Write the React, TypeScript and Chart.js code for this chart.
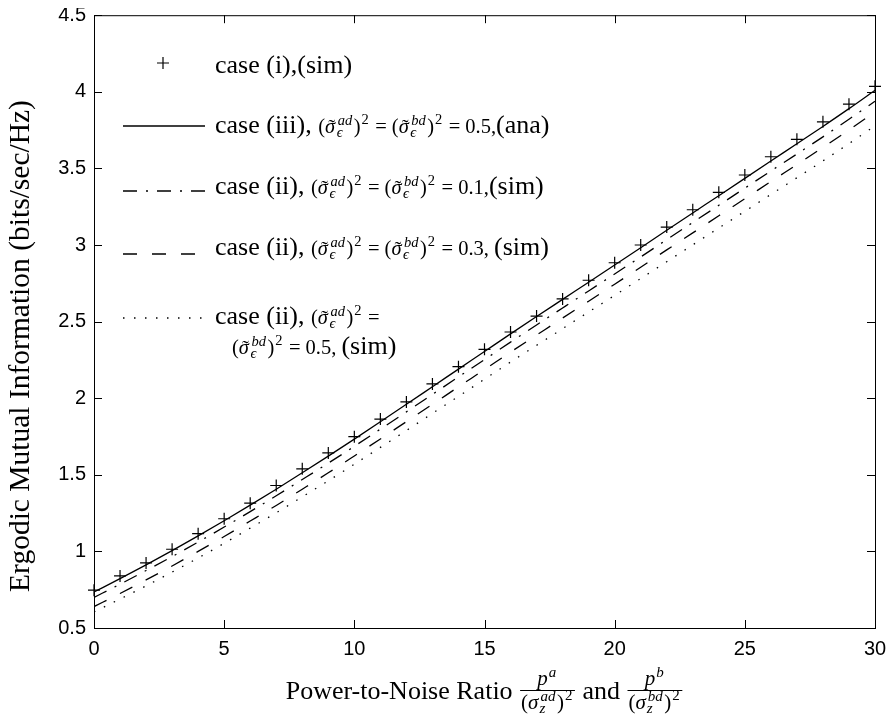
import React, { useEffect, useRef } from 'react';
import { Chart, registerables } from 'chart.js';

Chart.register(...registerables);

// Power-to-noise ratio (linear) at which the curves were evaluated
const snr = [0, 1, 2, 3, 4, 5, 6, 7, 8, 9, 10, 11, 12, 13, 14, 15, 16, 17, 18, 19, 20, 21, 22, 23, 24, 25, 26, 27, 28, 29, 30];

// case (i), simulated
const caseISim = [0.747, 0.840, 0.925, 1.014, 1.116, 1.213, 1.315, 1.430, 1.539, 1.643, 1.749, 1.864, 1.976, 2.093, 2.206, 2.319, 2.432, 2.536, 2.648, 2.770, 2.884, 3.000, 3.117, 3.230, 3.344, 3.457, 3.576, 3.690, 3.804, 3.919, 4.036];

// case (iii), error variance 0.5, analytical
const caseIIIAna = [0.735, 0.822, 0.912, 1.005, 1.101, 1.200, 1.302, 1.406, 1.513, 1.622, 1.733, 1.846, 1.960, 2.075, 2.190, 2.305, 2.420, 2.533, 2.645, 2.757, 2.869, 2.982, 3.096, 3.209, 3.322, 3.435, 3.548, 3.661, 3.774, 3.890, 4.010];

// case (ii), error variance 0.1, simulated
const caseII01 = [0.700, 0.786, 0.875, 0.966, 1.061, 1.159, 1.260, 1.363, 1.469, 1.576, 1.686, 1.798, 1.911, 2.025, 2.139, 2.252, 2.366, 2.478, 2.589, 2.700, 2.811, 2.922, 3.035, 3.147, 3.259, 3.371, 3.483, 3.594, 3.706, 3.821, 3.938];

// case (ii), error variance 0.3, simulated
const caseII03 = [0.640, 0.725, 0.814, 0.905, 1.000, 1.097, 1.198, 1.300, 1.406, 1.513, 1.623, 1.734, 1.847, 1.960, 2.074, 2.187, 2.301, 2.412, 2.523, 2.633, 2.744, 2.855, 2.968, 3.079, 3.191, 3.302, 3.414, 3.525, 3.637, 3.751, 3.869];

// case (ii), error variance 0.5, simulated
const caseII05 = [0.605, 0.689, 0.775, 0.865, 0.957, 1.053, 1.152, 1.252, 1.356, 1.461, 1.569, 1.679, 1.789, 1.901, 2.012, 2.124, 2.236, 2.345, 2.454, 2.563, 2.671, 2.781, 2.891, 3.001, 3.111, 3.220, 3.330, 3.439, 3.549, 3.662, 3.778];

const xTickValues = [0, 5, 10, 15, 20, 25, 30];
const yTickValues = [0.5, 1, 1.5, 2, 2.5, 3, 3.5, 4, 4.5];

const DASH_DOT = [14, 9, 2, 9];
const DASHED = [14, 15];
const DOTTED = [1.5, 9.5];

const SERIF = '"Liberation Serif", "Times New Roman", Times, "DejaVu Serif", serif';
const SANS = '"Liberation Sans", Arial, Helvetica, sans-serif';

type Piece =
  | { kind: 'text'; t: string; size: number; italic?: boolean; dy?: number; padL?: number; padR?: number }
  | { kind: 'tilde'; t: string; size: number }
  | { kind: 'script'; sup: string; sub: string; size: number; supDy: number; subDy: number }
  | { kind: 'frac'; num: Piece[]; den: Piece[]; barDy: number; numDy: number; denDy: number };

const fontOf = (size: number, italic?: boolean) => `${italic ? 'italic ' : ''}${size}px ${SERIF}`;
const isDigits = (s: string) => /^[0-9]+$/.test(s);

const T = (t: string, size: number, italic = false, dy = 0, padL = 0, padR = 0): Piece => ({
  kind: 'text', t, size, italic, dy, padL, padR,
});
const S = (sup: string, sub: string, size: number, supDy: number, subDy: number): Piece => ({
  kind: 'script', sup, sub, size, supDy, subDy,
});

function runPieces(ctx: CanvasRenderingContext2D, pieces: Piece[], x: number, y: number, draw: boolean): number {
  for (const p of pieces) {
    if (p.kind === 'text') {
      ctx.font = fontOf(p.size, p.italic);
      x += p.padL || 0;
      if (draw) ctx.fillText(p.t, x, y + (p.dy || 0));
      x += ctx.measureText(p.t).width + (p.padR || 0);
    } else if (p.kind === 'tilde') {
      // italic letter with a tilde accent above it
      ctx.font = fontOf(p.size, true);
      const w = ctx.measureText(p.t).width;
      if (draw) {
        ctx.fillText(p.t, x, y);
        ctx.font = fontOf(p.size, false);
        const wt = ctx.measureText('˜').width;
        ctx.fillText('˜', x + w / 2 - wt / 2 + 1.5, y + 1);
      }
      x += w + 1.5;
    } else if (p.kind === 'script') {
      ctx.font = fontOf(p.size, !isDigits(p.sup));
      const wSup = p.sup ? ctx.measureText(p.sup).width : 0;
      if (draw && p.sup) ctx.fillText(p.sup, x + 1, y + p.supDy);
      ctx.font = fontOf(p.size, true);
      const wSub = p.sub ? ctx.measureText(p.sub).width : 0;
      if (draw && p.sub) ctx.fillText(p.sub, x, y + p.subDy);
      x += Math.max(wSup + 1, wSub) + 1.5;
    } else {
      const wNum = runPieces(ctx, p.num, 0, 0, false);
      const wDen = runPieces(ctx, p.den, 0, 0, false);
      const w = Math.max(wNum, wDen) + 4;
      if (draw) {
        runPieces(ctx, p.num, x + (w - wNum) / 2, y + p.numDy, true);
        runPieces(ctx, p.den, x + (w - wDen) / 2, y + p.denDy, true);
        ctx.fillRect(x + 1, y + p.barDy, w - 2, 1);
      }
      x += w;
    }
  }
  return x;
}

// Legend text sizes
const M = 20.5;
const MS = 14.5;
const TXT = 26;

const sigmaEps = (sup: string): Piece[] => [
  T('(', M),
  { kind: 'tilde', t: 'σ', size: M },
  S(sup, 'ϵ', MS, -8, 4),
  T(')', M),
  S('2', '', MS, -9, 0),
];
const eq = T('=', M, false, 0, 5, 5);

const legendRows: { sample: 'marker' | number[] | null; sampleY: number; lines: { x: number; y: number; pieces: Piece[] }[] }[] = [
  {
    sample: 'marker',
    sampleY: 55,
    lines: [{ x: 207, y: 65, pieces: [T('case (i),(sim)', TXT)] }],
  },
  {
    sample: [],
    sampleY: 118,
    lines: [{
      x: 207, y: 125,
      pieces: [T('case (iii), ', TXT), ...sigmaEps('ad'), eq, ...sigmaEps('bd'), eq, T('0.5,', M), T('(ana)', TXT)],
    }],
  },
  {
    sample: DASH_DOT,
    sampleY: 183,
    lines: [{
      x: 207, y: 186,
      pieces: [T('case (ii), ', TXT), ...sigmaEps('ad'), eq, ...sigmaEps('bd'), eq, T('0.1,', M), T('(sim)', TXT)],
    }],
  },
  {
    sample: DASHED,
    sampleY: 246,
    lines: [{
      x: 207, y: 247,
      pieces: [T('case (ii), ', TXT), ...sigmaEps('ad'), eq, ...sigmaEps('bd'), eq, T('0.3, ', M), T('(sim)', TXT)],
    }],
  },
  {
    sample: DOTTED,
    sampleY: 310,
    lines: [
      { x: 207, y: 316, pieces: [T('case (ii), ', TXT), ...sigmaEps('ad'), eq] },
      { x: 224, y: 346, pieces: [...sigmaEps('bd'), eq, T('0.5, ', M), T('(sim)', TXT)] },
    ],
  },
];

const FR = 21;
const FS = 15;
const fracPiece = (user: string, pair: string): Piece => ({
  kind: 'frac',
  num: [T('p', FR, true), S(user, '', FS, -8, 0)],
  den: [T('(', FR), T('σ', FR, true, 0, 0, 1), S(pair, 'z', FS, -8, 4), T(')', FR), S('2', '', FS, -9, 0)],
  barDy: -9,
  numDy: -14,
  denDy: 10,
});
const xTitlePieces: Piece[] = [
  T('Power-to-Noise Ratio ', TXT),
  fracPiece('a', 'ad'),
  T(' and ', TXT),
  fracPiece('b', 'bd'),
];
const yTitle = 'Ergodic Mutual Information (bits/sec/Hz)';

const decorPlugin = {
  id: 'decor',
  afterDatasetsDraw(chart: any) {
    const { ctx, chartArea: a, scales } = chart;
    const xs = scales.x;
    const ys = scales.y;
    ctx.save();
    ctx.strokeStyle = '#000';
    ctx.lineWidth = 1;
    ctx.strokeRect(a.left + 0.5, a.top + 0.5, a.right - a.left, a.bottom - a.top);
    const TL = 8;
    ctx.beginPath();
    for (const v of xTickValues) {
      const px = Math.round(xs.getPixelForValue(v)) + 0.5;
      ctx.moveTo(px, a.bottom);
      ctx.lineTo(px, a.bottom - TL);
      ctx.moveTo(px, a.top);
      ctx.lineTo(px, a.top + TL);
    }
    for (const v of yTickValues) {
      const py = Math.round(ys.getPixelForValue(v)) + 0.5;
      ctx.moveTo(a.left, py);
      ctx.lineTo(a.left + TL, py);
      ctx.moveTo(a.right, py);
      ctx.lineTo(a.right - TL, py);
    }
    ctx.stroke();

    // x tick labels
    ctx.fillStyle = '#000';
    ctx.font = `20px ${SANS}`;
    ctx.textAlign = 'center';
    ctx.textBaseline = 'middle';
    for (const v of xTickValues) {
      ctx.fillText(String(v), xs.getPixelForValue(v), a.bottom + 21);
    }
    ctx.restore();
  },
  afterDraw(chart: any) {
    const { ctx, chartArea: a } = chart;
    ctx.save();
    ctx.fillStyle = '#000';
    ctx.strokeStyle = '#000';
    ctx.textBaseline = 'alphabetic';
    ctx.textAlign = 'left';

    // legend
    for (const row of legendRows) {
      const x1 = 115;
      const x2 = 197;
      if (row.sample === 'marker') {
        ctx.lineWidth = 1.2;
        ctx.setLineDash([]);
        ctx.beginPath();
        ctx.moveTo(155 - 6, row.sampleY);
        ctx.lineTo(155 + 6, row.sampleY);
        ctx.moveTo(155, row.sampleY - 6);
        ctx.lineTo(155, row.sampleY + 6);
        ctx.stroke();
      } else if (row.sample) {
        ctx.lineWidth = 1.3;
        ctx.setLineDash(row.sample);
        ctx.beginPath();
        ctx.moveTo(x1, row.sampleY);
        ctx.lineTo(x2, row.sampleY);
        ctx.stroke();
        ctx.setLineDash([]);
      }
      for (const ln of row.lines) runPieces(ctx, ln.pieces, ln.x, ln.y, true);
    }

    // x-axis title
    const w = runPieces(ctx, xTitlePieces, 0, 0, false);
    const cx = (a.left + a.right) / 2;
    runPieces(ctx, xTitlePieces, cx - w / 2, 691, true);

    // y-axis title
    ctx.translate(21, 338);
    ctx.rotate(-Math.PI / 2);
    ctx.font = fontOf(29.5);
    ctx.textAlign = 'center';
    ctx.fillText(yTitle, 0, 0);
    ctx.restore();
  },
};

const toPoints = (ys: number[]) => snr.map((x, i) => ({ x, y: ys[i] }));

export default function App() {
  const ref = useRef<HTMLCanvasElement | null>(null);

  useEffect(() => {
    if (!ref.current) return;
    const lineBase = {
      borderColor: '#000',
      backgroundColor: '#000',
      pointRadius: 0,
      pointHoverRadius: 0,
      borderWidth: 1.3,
      cubicInterpolationMode: 'monotone' as const,
      fill: false,
      borderCapStyle: 'butt' as const,
    };
    const chart = new Chart(ref.current, {
      type: 'line',
      data: {
        datasets: [
          {
            label: 'case (i),(sim)',
            data: toPoints(caseISim),
            showLine: false,
            pointStyle: 'cross',
            pointRadius: 6,
            pointBorderWidth: 1.2,
            borderColor: '#000',
            backgroundColor: '#000',
            clip: false as any,
          },
          { ...lineBase, label: 'case (iii) 0.5 (ana)', data: toPoints(caseIIIAna) },
          { ...lineBase, label: 'case (ii) 0.1 (sim)', data: toPoints(caseII01), borderDash: DASH_DOT },
          { ...lineBase, label: 'case (ii) 0.3 (sim)', data: toPoints(caseII03), borderDash: DASHED },
          { ...lineBase, label: 'case (ii) 0.5 (sim)', data: toPoints(caseII05), borderDash: DOTTED },
        ],
      },
      options: {
        responsive: false,
        animation: false,
        layout: { padding: { top: 5, right: 16, left: 0, bottom: 0 } },
        plugins: { legend: { display: false }, tooltip: { enabled: false }, title: { display: false } },
        scales: {
          x: {
            type: 'linear',
            min: 0,
            max: 30,
            ticks: { stepSize: 5, display: false },
            grid: { display: false, drawTicks: false },
            border: { display: false },
            afterFit: (s: any) => {
              s.height = 91;
              s.paddingLeft = 0;
              s.paddingRight = 0;
            },
          },
          y: {
            type: 'linear',
            min: 0.5,
            max: 4.5,
            ticks: {
              stepSize: 0.5, color: '#000', padding: 8,
              font: { family: SANS, size: 20 },
              callback: (v: any) => `${Math.round(Number(v) * 10) / 10}`,
            },
            grid: { display: false, drawTicks: false },
            border: { display: false },
            afterFit: (s: any) => {
              s.width = 86;
              s.paddingTop = 0;
              s.paddingBottom = 0;
            },
          },
        },
      },
      plugins: [decorPlugin],
    });
    return () => chart.destroy();
  }, []);

  // full-window figure: 8px white border around an 883x711 drawing
  return (
    <div style={{ width: 891, height: 719, boxSizing: 'border-box', padding: '8px 0 0 8px', background: '#fff' }}>
      <style>{'html, body { margin: 0; padding: 0; overflow: hidden; }'}</style>
      <canvas ref={ref} width={883} height={711} style={{ display: 'block' }} />
    </div>
  );
}
